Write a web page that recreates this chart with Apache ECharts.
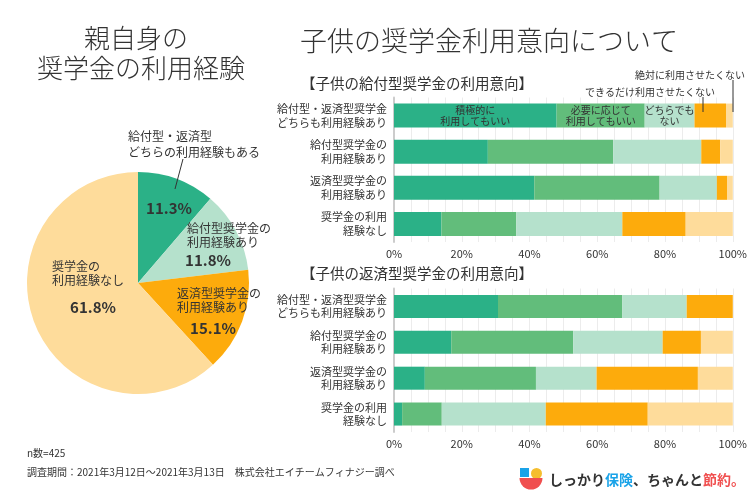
<!DOCTYPE html>
<html><head><meta charset="utf-8">
<script src="https://cdn.jsdelivr.net/npm/echarts@6/dist/echarts.min.js"></script>
<style>html,body{margin:0;padding:0;background:#fff}#c{width:750px;height:500px}</style>
</head><body><div id="c"></div>
<script>
var categories = ['給付型・返済型奨学金\nどちらも利用経験あり','給付型奨学金の\n利用経験あり','返済型奨学金の\n利用経験あり','奨学金の利用\n経験なし'];
var seriesNames = ['積極的に利用してもいい','必要に応じて利用してもいい','どちらでもない','できるだけ利用させたくない','絶対に利用させたくない'];
var kyufuActive = [48.0, 27.7, 41.4, 14.0];
var kyufuIfNeeded = [26.0, 37.0, 37.0, 22.1];
var kyufuNeutral = [14.7, 26.0, 16.9, 31.3];
var kyufuRather = [9.3, 5.6, 3.0, 18.7];
var kyufuNever = [2.0, 3.7, 1.7, 13.9];
var hensaiActive = [30.7, 16.9, 9.1, 2.4];
var hensaiIfNeeded = [36.7, 36.0, 32.8, 11.7];
var hensaiNeutral = [19.0, 26.4, 17.9, 30.7];
var hensaiRather = [13.6, 11.3, 29.9, 30.1];
var hensaiNever = [0, 9.4, 10.3, 25.1];
var pieNames = ['給付型・返済型どちらの利用経験もある','給付型奨学金の利用経験あり','返済型奨学金の利用経験あり','奨学金の利用経験なし'];
var pieValues = [11.3, 11.8, 15.1, 61.8];
var xTicks = [0, 20, 40, 60, 80, 100];

var FONT = 'Noto Sans CJK JP';
var TXT = '#333';
var colors = ['#2bb187', '#62bd7b', '#b5e1cc', '#fdab0c', '#fedc9b'];
var inLabels = ['積極的に\n利用してもいい', '必要に応じて\n利用してもいい', 'どちらでも\nない'];

function xAxis(gi) {
  return {
    gridIndex: gi, type: 'value', min: 0, max: 100, interval: 5,
    axisLine: {show: false}, axisTick: {show: false},
    splitLine: {show: true, lineStyle: {color: '#ececec', width: 1}},
    axisLabel: {color: TXT, fontSize: 11, fontFamily: FONT, margin: 6,
      formatter: function (v) { return xTicks.indexOf(v) >= 0 ? v + '%' : ''; }}
  };
}
function yAxis(gi) {
  return {
    gridIndex: gi, type: 'category', data: categories, inverse: true,
    axisLine: {show: true, lineStyle: {color: '#cccccc', width: 2}},
    axisTick: {show: false},
    axisLabel: {color: TXT, fontSize: 11, lineHeight: 13.5, fontFamily: FONT, margin: 7}
  };
}
function mkSeries(arrs, gi, withLabels, bw) {
  return arrs.map(function (arr, i) {
    var data = arr.map(function (v, j) {
      var d = {value: v};
      if (withLabels && j === 0 && i < 3) {
        d.label = {show: true, position: 'inside', formatter: inLabels[i], color: TXT,
          fontSize: 10, lineHeight: 11, fontFamily: FONT};
      }
      return d;
    });
    return {
      type: 'bar', name: seriesNames[i], stack: 's' + gi, xAxisIndex: gi, yAxisIndex: gi,
      barWidth: bw, data: data, itemStyle: {color: colors[i]},
      label: {show: false}, emphasis: {disabled: true}, animation: false
    };
  });
}

var series = []
  .concat(mkSeries([kyufuActive, kyufuIfNeeded, kyufuNeutral, kyufuRather, kyufuNever], 0, true, 24))
  .concat(mkSeries([hensaiActive, hensaiIfNeeded, hensaiNeutral, hensaiRather, hensaiNever], 1, false, 23));

series.push({
  type: 'pie', center: [138, 283], radius: 111, startAngle: 90, clockwise: true,
  label: {show: false}, labelLine: {show: false}, animation: false,
  emphasis: {disabled: true}, z: 1,
  data: pieValues.map(function (v, i) {
    return {name: pieNames[i], value: v, itemStyle: {color: [colors[0], colors[2], colors[3], colors[4]][i]}};
  })
});

function t(x, y, text, size, extra) {
  var s = {text: text, fontSize: size, fontFamily: FONT, fill: TXT, textVerticalAlign: 'middle'};
  for (var k in extra) s[k] = extra[k];
  return {type: 'text', x: x, y: y, z: 100, style: s, silent: true};
}
function pct(v) { return v.toFixed(1) + '%'; }

var graphics = [
  t(136, 38, '親自身の', 26, {textAlign: 'center', fontWeight: 300}),
  t(141, 68, '奨学金の利用経験', 26, {textAlign: 'center', fontWeight: 300}),
  t(489, 41, '子供の奨学金利用意向について', 27, {textAlign: 'center', fontWeight: 300}),
  t(301, 83, '【子供の給付型奨学金の利用意向】', 14.5, {}),
  t(301, 273, '【子供の返済型奨学金の利用意向】', 14.5, {}),
  t(745, 75, '絶対に利用させたくない', 10, {textAlign: 'right'}),
  t(715, 92, 'できるだけ利用させたくない', 10, {textAlign: 'right'}),
  {type: 'line', z: 100, shape: {x1: 703, y1: 97, x2: 703, y2: 112}, style: {stroke: '#333', lineWidth: 1}, silent: true},
  {type: 'line', z: 100, shape: {x1: 733, y1: 80, x2: 733, y2: 112}, style: {stroke: '#333', lineWidth: 1}, silent: true},
  // pie labels
  t(128, 136, '給付型・返済型', 12, {}),
  t(128, 152, 'どちらの利用経験もある', 12, {}),
  {type: 'line', z: 100, shape: {x1: 183, y1: 159, x2: 175, y2: 189}, style: {stroke: '#333', lineWidth: 1}, silent: true},
  t(169, 208, pct(pieValues[0]), 15, {textAlign: 'center', fontWeight: 'bold'}),
  t(187, 228, '給付型奨学金の', 12, {}),
  t(187, 242, '利用経験あり', 12, {}),
  t(208, 260, pct(pieValues[1]), 15, {textAlign: 'center', fontWeight: 'bold'}),
  t(177, 293, '返済型奨学金の', 12, {}),
  t(177, 307, '利用経験あり', 12, {}),
  t(213, 328, pct(pieValues[2]), 15, {textAlign: 'center', fontWeight: 'bold'}),
  t(52, 266, '奨学金の', 12, {}),
  t(52, 280, '利用経験なし', 12, {}),
  t(93, 307, pct(pieValues[3]), 15, {textAlign: 'center', fontWeight: 'bold'}),
  // footer
  t(27, 453, 'n数=425', 10, {}),
  t(27, 472, '調査期間：2021年3月12日～2021年3月13日　株式会社エイチームフィナジー調べ', 10, {}),
  // logo
  {type: 'rect', z: 100, shape: {x: 520, y: 468, width: 9, height: 9}, style: {fill: '#1aa3e8'}, silent: true},
  {type: 'circle', z: 100, shape: {cx: 536.5, cy: 473.5, r: 5.5}, style: {fill: '#f5be2e'}, silent: true},
  {type: 'sector', z: 100, shape: {cx: 531, cy: 478, r: 11.5, r0: 0, startAngle: 0, endAngle: Math.PI, clockwise: true}, style: {fill: '#f04f4f'}, silent: true},
  {type: 'text', z: 100, x: 549, y: 480, silent: true, style: {
    text: '{a|しっかり}{b|保険}{a|、ちゃんと}{c|節約。}', textVerticalAlign: 'middle',
    rich: {
      a: {fontSize: 14, fontWeight: 'bold', fill: '#333', fontFamily: FONT},
      b: {fontSize: 14, fontWeight: 'bold', fill: '#1aa3e8', fontFamily: FONT},
      c: {fontSize: 14, fontWeight: 'bold', fill: '#f04f4f', fontFamily: FONT}
    }}}
];

var chart = echarts.init(document.getElementById('c'), null, {renderer: 'canvas'});
chart.setOption({
  animation: false,
  backgroundColor: '#fff',
  textStyle: {fontFamily: FONT},
  grid: [
    {left: 394, width: 339, top: 97.5, height: 144.5},
    {left: 394, width: 339, top: 288.5, height: 143.5}
  ],
  xAxis: [xAxis(0), xAxis(1)],
  yAxis: [yAxis(0), yAxis(1)],
  series: series,
  graphic: {elements: graphics}
});
</script>
</body></html>
